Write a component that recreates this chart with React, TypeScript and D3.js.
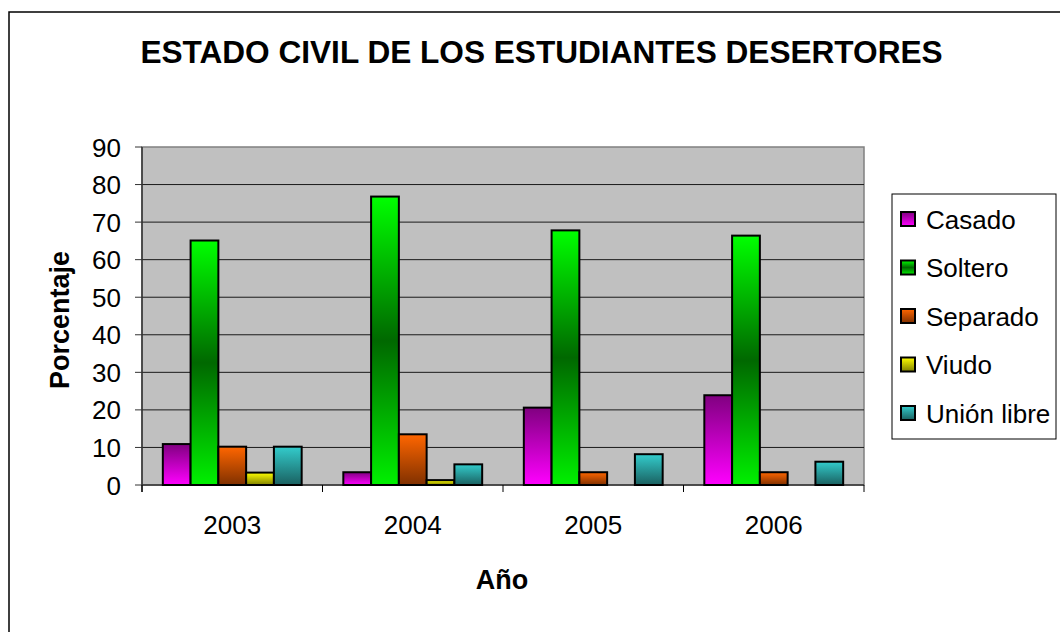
import React from "react";
import * as d3 from "d3";

const years = ["2003", "2004", "2005", "2006"];
const seriesNames = ["Casado", "Soltero", "Separado", "Viudo", "Unión libre"];
const casado = [10.9, 3.4, 20.6, 23.9];
const soltero = [65.1, 76.8, 67.8, 66.4];
const separado = [10.2, 13.5, 3.4, 3.4];
const viudo = [3.3, 1.3, 0, 0];
const unionLibre = [10.2, 5.5, 8.2, 6.2];
const yTicks = [0, 10, 20, 30, 40, 50, 60, 70, 80, 90];

const gradients = [
  [["0%", "#800080"], ["100%", "#FF00FF"]],
  [["0%", "#00FF00"], ["50%", "#006800"], ["100%", "#00F000"]],
  [["0%", "#FF6600"], ["100%", "#7F3000"]],
  [["0%", "#FFFF00"], ["100%", "#808000"]],
  [["0%", "#33CCCC"], ["100%", "#1A6060"]],
];

const FONT = "'Liberation Sans', Arial, Helvetica, sans-serif";

export default function App() {
  const W = 1060, H = 632;
  const left = 142, right = 864, top = 147, bottom = 485;
  const data = [casado, soltero, separado, viudo, unionLibre];
  const y = d3.scaleLinear().domain([0, 90]).range([bottom, top]);
  const x0 = d3.scaleBand().domain(years).range([left, right]).padding(0);
  const x1 = d3
    .scaleBand()
    .domain(seriesNames)
    .range([0, x0.bandwidth()])
    .paddingInner(0)
    .paddingOuter(0.75);

  const legendX = 892, legendY = 194, legendW = 164, legendH = 245;
  const legendStep = 48.5;

  return (
    <svg
      width={W}
      height={H}
      style={{ position: "absolute", left: 0, top: 0, background: "#fff" }}
      fontFamily={FONT}
    >
      <defs>
        {gradients.map((stops, i) => (
          <linearGradient key={i} id={`g${i}`} x1="0" y1="0" x2="0" y2="1">
            {stops.map(([o, c], j) => (
              <stop key={j} offset={o} stopColor={c} />
            ))}
          </linearGradient>
        ))}
      </defs>
      <rect x={9} y={12} width={1100} height={700} fill="#fff" stroke="#000" strokeWidth={1.5} />
      <text
        x={541.5}
        y={63}
        textAnchor="middle"
        fontSize={31.6}
        fontWeight="bold"
        fill="#000"
      >
        ESTADO CIVIL DE LOS ESTUDIANTES DESERTORES
      </text>

      {/* plot area */}
      <rect x={left} y={top} width={right - left} height={bottom - top} fill="#C0C0C0" stroke="#808080" strokeWidth={1.5} />
      {yTicks.map((t) => (
        <g key={t}>
          {t > 0 && t < 90 && (
            <line x1={left} x2={right} y1={y(t)} y2={y(t)} stroke="#1a1a1a" strokeWidth={1} />
          )}
          <line x1={left - 7} x2={left} y1={y(t)} y2={y(t)} stroke="#333" strokeWidth={1} />
          <text x={121} y={y(t) + 9.5} textAnchor="end" fontSize={26} fill="#000">
            {t}
          </text>
        </g>
      ))}
      <line x1={left} x2={left} y1={top} y2={bottom + 7} stroke="#333" strokeWidth={1.5} />
      <line x1={left} x2={right} y1={bottom} y2={bottom} stroke="#333" strokeWidth={1.5} />
      {[...years.map((yr) => x0(yr) as number), right].map((xv, i) => (
        <line key={i} x1={xv} x2={xv} y1={bottom} y2={bottom + 7} stroke="#000" strokeWidth={1} />
      ))}

      {/* bars */}
      {years.map((yr, ci) => (
        <g key={yr}>
          {data.map((vals, si) => {
            const v = vals[ci];
            if (v <= 0) return null;
            const bx = (x0(yr) as number) + (x1(seriesNames[si]) as number);
            return (
              <rect
                key={si}
                x={bx}
                y={y(v)}
                width={x1.bandwidth()}
                height={y(0) - y(v)}
                fill={`url(#g${si})`}
                stroke="#000"
                strokeWidth={2}
              />
            );
          })}
          <text
            x={(x0(yr) as number) + x0.bandwidth() / 2}
            y={534}
            textAnchor="middle"
            fontSize={26}
            fill="#000"
          >
            {yr}
          </text>
        </g>
      ))}

      <text x={502} y={589} textAnchor="middle" fontSize={27} fontWeight="bold" fill="#000">
        Año
      </text>
      <text
        transform={`translate(69,320) rotate(-90)`}
        textAnchor="middle"
        fontSize={27}
        fontWeight="bold"
        fill="#000"
      >
        Porcentaje
      </text>

      {/* legend */}
      <rect x={legendX} y={legendY} width={legendW} height={legendH} fill="#fff" stroke="#000" strokeWidth={1} />
      {seriesNames.map((name, i) => {
        const cy = 219 + i * legendStep;
        return (
          <g key={name}>
            <rect x={901} y={cy - 7} width={14} height={14} fill={`url(#g${i})`} stroke="#000" strokeWidth={2} />
            <text x={926} y={cy + 9.5} fontSize={26} fill="#000">
              {name}
            </text>
          </g>
        );
      })}
    </svg>
  );
}
